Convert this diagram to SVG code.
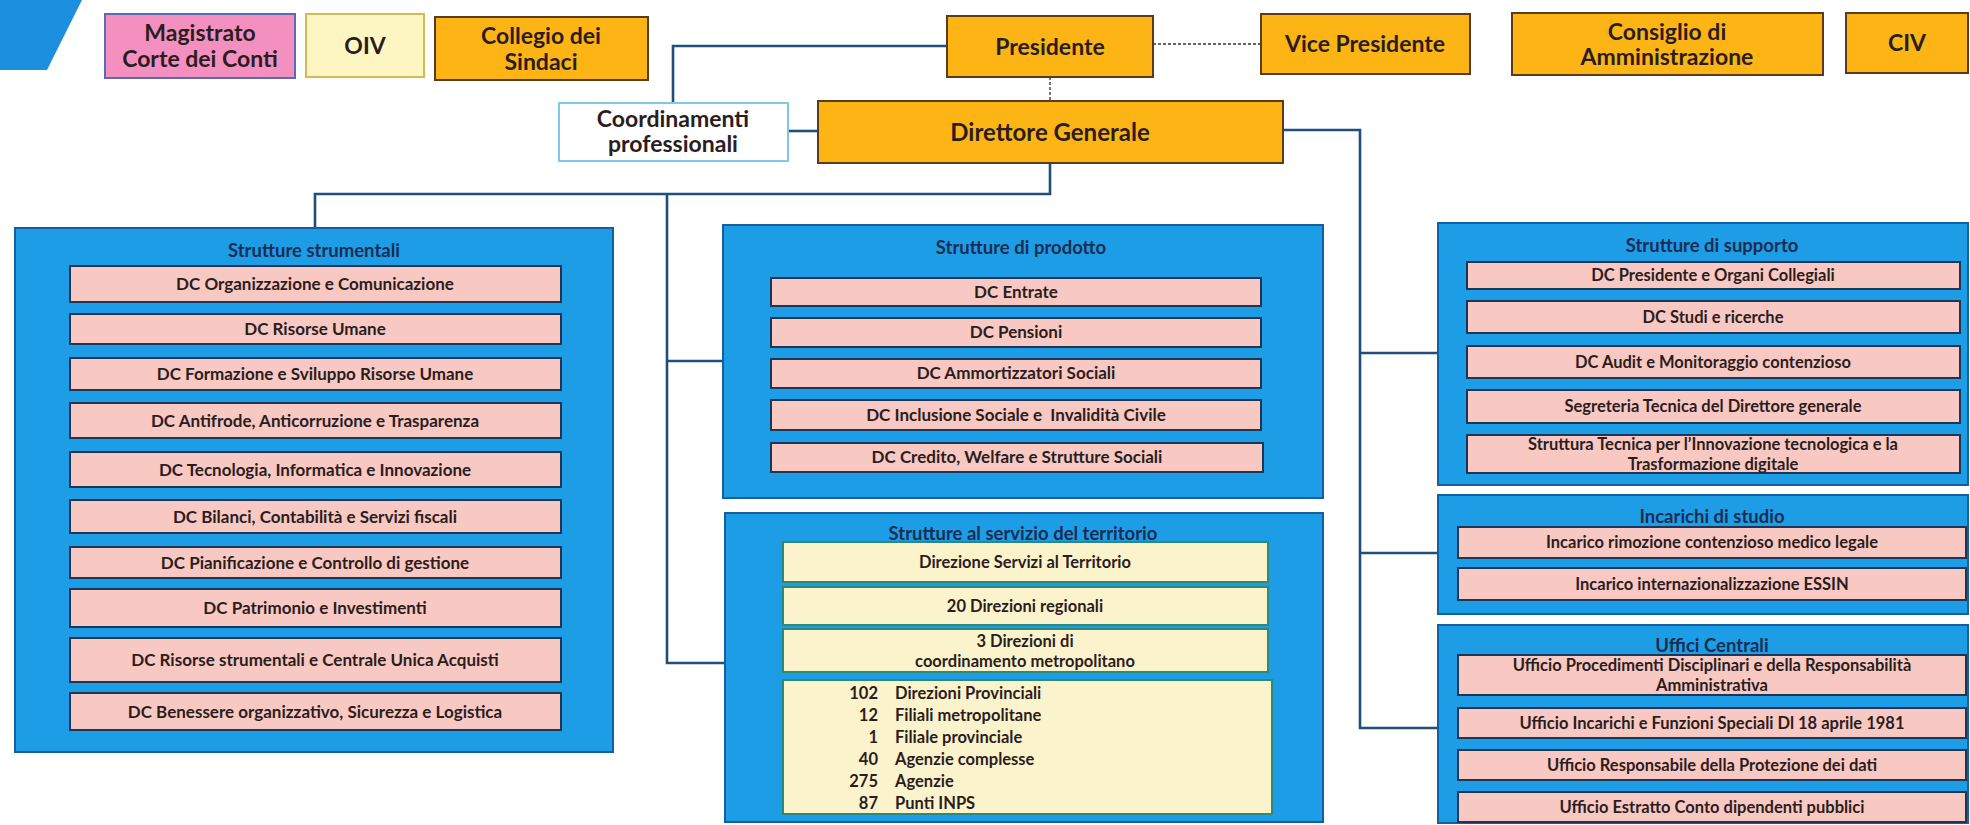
<svg xmlns="http://www.w3.org/2000/svg" width="1970" height="825" viewBox="0 0 1970 825">
<style>
.bg{fill:#ffffff}
.panel{fill:#1c9de6;stroke:#14609e;stroke-width:2}
.pink{fill:#f8c8c2;stroke:#1d3557;stroke-width:2}
.yel{fill:#fbf3cb;stroke:#2d8a78;stroke-width:2}
.org{fill:#fdb515;stroke:#5b3b1e;stroke-width:2}
.t{font-family:Lato,"Liberation Sans",sans-serif;font-weight:bold;fill:#2b1d1d;text-anchor:middle}
.s{font-size:16.5px}
.s17{font-size:17px}
.ttl{font-size:18.5px;fill:#1b2d52}
.big{font-size:23px}
.l{text-anchor:start}
.r{text-anchor:end}
.conn{fill:none;stroke:#1f4f7a;stroke-width:2.6}
.dot{fill:none;stroke:#666666;stroke-width:1.8;stroke-dasharray:3 2}
</style>
<rect class="bg" x="0" y="0" width="1970" height="825"/>
<polygon points="0,0 82,0 47,70 0,70" fill="#1d8fdf"/>

<g id="connectors">
<path class="conn" d="M947,46 H673 V103"/>
<path class="conn" d="M788,131 H818"/>
<path class="conn" d="M1050,163 V194 H315 V228"/>
<path class="conn" d="M667,194 V663 H725"/>
<path class="conn" d="M667,361 H723"/>
<path class="conn" d="M1283,130 H1360 V728 H1438"/>
<path class="conn" d="M1360,353 H1438"/>
<path class="conn" d="M1360,553 H1438"/>
<path class="dot" d="M1153,44 H1261"/>
<path class="dot" d="M1050,77 V101"/>
</g>

<g id="magistrato">
<rect x="105" y="14" width="190" height="64" fill="#f390c0" stroke="#5a6bb5" stroke-width="2"/>
<text class="t big" x="200" y="41">Magistrato</text>
<text class="t big" x="200" y="67">Corte dei Conti</text>
</g>
<g id="oiv">
<rect x="306" y="14" width="118" height="63" fill="#fdf6c2" stroke="#d8b850" stroke-width="2"/>
<text class="t big" x="365" y="54">OIV</text>
</g>
<g id="collegio">
<rect class="org" x="435" y="17" width="213" height="63"/>
<text class="t big" x="541" y="44">Collegio dei</text>
<text class="t big" x="541" y="70">Sindaci</text>
</g>
<g id="presidente">
<rect class="org" x="947" y="16" width="206" height="61"/>
<text class="t big" x="1050" y="55">Presidente</text>
</g>
<g id="vice">
<rect class="org" x="1261" y="14" width="209" height="60"/>
<text class="t big" x="1365" y="52">Vice Presidente</text>
</g>
<g id="consiglio">
<rect class="org" x="1512" y="13" width="311" height="62"/>
<text class="t big" x="1667" y="40">Consiglio di</text>
<text class="t big" x="1667" y="65">Amministrazione</text>
</g>
<g id="civ">
<rect class="org" x="1846" y="13" width="122" height="60"/>
<text class="t big" x="1907" y="51">CIV</text>
</g>
<g id="coordinamenti">
<rect x="559" y="103" width="229" height="58" fill="#ffffff" stroke="#7ccbe6" stroke-width="2"/>
<text class="t big" x="673" y="127">Coordinamenti</text>
<text class="t big" x="673" y="152">professionali</text>
</g>
<g id="direttore">
<rect class="org" x="818" y="101" width="465" height="62"/>
<text class="t" style="font-size:24px" x="1050" y="141">Direttore Generale</text>
</g>

<g id="strumentali">
<rect class="panel" x="15" y="228" width="598" height="524"/>
<text class="t ttl" x="314" y="257">Strutture strumentali</text>
<rect class="pink" x="70" y="266" width="491" height="36"/><text class="t s17" x="315" y="290">DC Organizzazione e Comunicazione</text>
<rect class="pink" x="70" y="314" width="491" height="30"/><text class="t s17" x="315" y="335">DC Risorse Umane</text>
<rect class="pink" x="70" y="358" width="491" height="32"/><text class="t s17" x="315" y="380">DC Formazione e Sviluppo Risorse Umane</text>
<rect class="pink" x="70" y="403" width="491" height="35"/><text class="t s17" x="315" y="427">DC Antifrode, Anticorruzione e Trasparenza</text>
<rect class="pink" x="70" y="452" width="491" height="35"/><text class="t s17" x="315" y="476">DC Tecnologia, Informatica e Innovazione</text>
<rect class="pink" x="70" y="500" width="491" height="33"/><text class="t s17" x="315" y="523">DC Bilanci, Contabilità e Servizi fiscali</text>
<rect class="pink" x="70" y="547" width="491" height="31"/><text class="t s17" x="315" y="569">DC Pianificazione e Controllo di gestione</text>
<rect class="pink" x="70" y="589" width="491" height="38"/><text class="t s17" x="315" y="614">DC Patrimonio e Investimenti</text>
<rect class="pink" x="70" y="638" width="491" height="44"/><text class="t s17" x="315" y="666">DC Risorse strumentali e Centrale Unica Acquisti</text>
<rect class="pink" x="70" y="693" width="491" height="37"/><text class="t s17" x="315" y="718">DC Benessere organizzativo, Sicurezza e Logistica</text>
</g>

<g id="prodotto">
<rect class="panel" x="723" y="225" width="600" height="273"/>
<text class="t ttl" x="1021" y="254">Strutture di prodotto</text>
<rect class="pink" x="771" y="278" width="490" height="28"/><text class="t s17" x="1016" y="298">DC Entrate</text>
<rect class="pink" x="771" y="318" width="490" height="29"/><text class="t s17" x="1016" y="338">DC Pensioni</text>
<rect class="pink" x="771" y="359" width="490" height="29"/><text class="t s17" x="1016" y="379">DC Ammortizzatori Sociali</text>
<rect class="pink" x="771" y="400" width="490" height="30"/><text class="t s17" style="white-space:pre" x="1016" y="421">DC Inclusione Sociale e  Invalidità Civile</text>
<rect class="pink" x="771" y="443" width="492" height="29"/><text class="t s17" x="1017" y="463">DC Credito, Welfare e Strutture Sociali</text>
</g>

<g id="territorio">
<rect class="panel" x="725" y="513" width="598" height="309"/>
<rect class="yel" x="783" y="542" width="485" height="40"/><text class="t s" x="1025" y="568">Direzione Servizi al Territorio</text>
<text class="t ttl" x="1023" y="540">Strutture al servizio del territorio</text>
<rect class="yel" x="783" y="587" width="485" height="38"/><text class="t s" x="1025" y="612">20 Direzioni regionali</text>
<rect class="yel" x="783" y="629" width="485" height="43"/>
<text class="t s" x="1025" y="647">3 Direzioni di</text>
<text class="t s" x="1025" y="667">coordinamento metropolitano</text>
<rect class="yel" x="783" y="680" width="489" height="134"/>
<text class="t s r" x="878" y="699">102</text><text class="t s l" x="895" y="699">Direzioni Provinciali</text>
<text class="t s r" x="878" y="721">12</text><text class="t s l" x="895" y="721">Filiali metropolitane</text>
<text class="t s r" x="878" y="743">1</text><text class="t s l" x="895" y="743">Filiale provinciale</text>
<text class="t s r" x="878" y="765">40</text><text class="t s l" x="895" y="765">Agenzie complesse</text>
<text class="t s r" x="878" y="787">275</text><text class="t s l" x="895" y="787">Agenzie</text>
<text class="t s r" x="878" y="809">87</text><text class="t s l" x="895" y="809">Punti INPS</text>
</g>

<g id="supporto">
<rect class="panel" x="1438" y="223" width="530" height="262"/>
<text class="t ttl" x="1712" y="252">Strutture di supporto</text>
<rect class="pink" x="1467" y="262" width="493" height="27"/><text class="t s" x="1713" y="281">DC Presidente e Organi Collegiali</text>
<rect class="pink" x="1467" y="301" width="493" height="32"/><text class="t s" x="1713" y="323">DC Studi e ricerche</text>
<rect class="pink" x="1467" y="346" width="493" height="32"/><text class="t s" x="1713" y="368">DC Audit e Monitoraggio contenzioso</text>
<rect class="pink" x="1467" y="390" width="493" height="33"/><text class="t s" x="1713" y="412">Segreteria Tecnica del Direttore generale</text>
<rect class="pink" x="1467" y="435" width="493" height="38"/>
<text class="t s" x="1713" y="450">Struttura Tecnica per l’Innovazione tecnologica e la</text>
<text class="t s" x="1713" y="470">Trasformazione digitale</text>
</g>

<g id="incarichi">
<rect class="panel" x="1438" y="495" width="530" height="119"/>
<rect class="pink" x="1458" y="527" width="508" height="31"/><text class="t s" x="1712" y="548">Incarico rimozione contenzioso medico legale</text>
<text class="t ttl" x="1712" y="523">Incarichi di studio</text>
<rect class="pink" x="1458" y="568" width="508" height="32"/><text class="t s" x="1712" y="590">Incarico internazionalizzazione ESSIN</text>
</g>

<g id="uffici">
<rect class="panel" x="1438" y="625" width="530" height="198"/>
<rect class="pink" x="1458" y="655" width="508" height="40"/>
<text class="t ttl" x="1712" y="652">Uffici Centrali</text>
<text class="t s" x="1712" y="671">Ufficio Procedimenti Disciplinari e della Responsabilità</text>
<text class="t s" x="1712" y="691">Amministrativa</text>
<rect class="pink" x="1458" y="708" width="508" height="30"/><text class="t s" x="1712" y="729">Ufficio Incarichi e Funzioni Speciali Dl 18 aprile 1981</text>
<rect class="pink" x="1458" y="750" width="508" height="30"/><text class="t s" x="1712" y="771">Ufficio Responsabile della Protezione dei dati</text>
<rect class="pink" x="1458" y="792" width="508" height="30"/><text class="t s" x="1712" y="813">Ufficio Estratto Conto dipendenti pubblici</text>
</g>
</svg>
